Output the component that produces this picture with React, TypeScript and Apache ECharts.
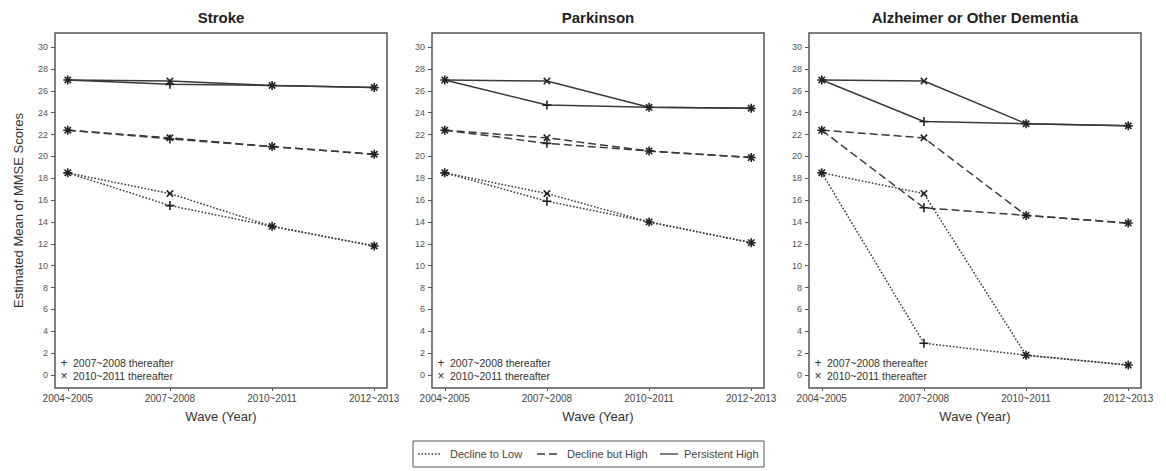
import React, { useEffect, useRef } from "react";
import * as echarts from "echarts";

const waves = ["2004~2005", "2007~2008", "2010~2011", "2012~2013"];
const panelTitles = ["Stroke", "Parkinson", "Alzheimer or Other Dementia"];
const yTicks = [0, 2, 4, 6, 8, 10, 12, 14, 16, 18, 20, 22, 24, 26, 28, 30];
const groupNames = ["Decline to Low", "Decline but High", "Persistent High"];
const variantNames = ["2007~2008 thereafter", "2010~2011 thereafter"];

// Stroke
const strokeLowPlus = [18.5, 15.5, 13.6, 11.8];
const strokeLowCross = [18.5, 16.6, 13.6, 11.8];
const strokeDecHighPlus = [22.4, 21.6, 20.9, 20.2];
const strokeDecHighCross = [22.4, 21.7, 20.9, 20.2];
const strokePersPlus = [27.0, 26.6, 26.5, 26.3];
const strokePersCross = [27.0, 26.9, 26.5, 26.3];

// Parkinson
const parkLowPlus = [18.5, 15.9, 14.0, 12.1];
const parkLowCross = [18.5, 16.6, 14.0, 12.1];
const parkDecHighPlus = [22.4, 21.2, 20.5, 19.9];
const parkDecHighCross = [22.4, 21.7, 20.5, 19.9];
const parkPersPlus = [27.0, 24.7, 24.5, 24.4];
const parkPersCross = [27.0, 26.9, 24.5, 24.4];

// Alzheimer or Other Dementia
const alzLowPlus = [18.5, 2.9, 1.8, 0.9];
const alzLowCross = [18.5, 16.6, 1.8, 0.9];
const alzDecHighPlus = [22.4, 15.3, 14.6, 13.9];
const alzDecHighCross = [22.4, 21.7, 14.6, 13.9];
const alzPersPlus = [27.0, 23.2, 23.0, 22.8];
const alzPersCross = [27.0, 26.9, 23.0, 22.8];

const panelData = [
  [[strokeLowPlus, strokeLowCross], [strokeDecHighPlus, strokeDecHighCross], [strokePersPlus, strokePersCross]],
  [[parkLowPlus, parkLowCross], [parkDecHighPlus, parkDecHighCross], [parkPersPlus, parkPersCross]],
  [[alzLowPlus, alzLowCross], [alzDecHighPlus, alzDecHighCross], [alzPersPlus, alzPersCross]],
];

const FONT = "'Liberation Sans', Arial, Helvetica, sans-serif";
const LINE_COLOR = "#3a3a3a";
const lineTypes: any[] = [[1.6, 1.8], [8, 4], "solid"];
const PLUS_PATH = "path://M4.1,0 H5.9 V4.1 H10 V5.9 H5.9 V10 H4.1 V5.9 H0 V4.1 H4.1 Z";

const GRID_LEFT = [55, 432, 809];
const GRID_TOP = 33;
const GRID_W = 332;
const GRID_H = 355;

export default function App() {
  const ref = useRef<HTMLDivElement>(null);

  useEffect(() => {
    if (!ref.current) return;
    const chart = echarts.init(ref.current, undefined, { renderer: "svg" });

    const grids = GRID_LEFT.map((l) => ({
      left: l,
      top: GRID_TOP,
      width: GRID_W,
      height: GRID_H,
      show: true,
      borderColor: "#555",
      borderWidth: 1.5,
      backgroundColor: "transparent",
    }));

    const xAxes = GRID_LEFT.map((_, i) => ({
      type: "value",
      gridIndex: i,
      min: -0.125,
      max: 3.125,
      axisLine: { show: false, onZero: false },
      splitLine: { show: false },
      axisTick: { show: true, inside: false, customValues: [0, 1, 2, 3], length: 3, lineStyle: { color: "#555", width: 1 } },
      axisLabel: {
        customValues: [0, 1, 2, 3],
        formatter: (v: number) => waves[Math.round(v)] ?? "",
        fontSize: 10,
        color: "#444",
        fontFamily: FONT,
        margin: 5,
      },
      name: "Wave (Year)",
      nameLocation: "middle",
      nameGap: 22,
      nameTextStyle: { fontSize: 13, color: "#333", fontFamily: FONT },
    }));

    const yAxes = GRID_LEFT.map((_, i) => ({
      type: "value",
      gridIndex: i,
      min: -1.2,
      max: 31.3,
      axisLine: { show: false, onZero: false },
      splitLine: { show: false },
      axisTick: { show: true, inside: false, customValues: yTicks, length: 4, lineStyle: { color: "#555" } },
      axisLabel: {
        customValues: yTicks,
        fontSize: 9,
        color: "#555",
        fontFamily: FONT,
        margin: 7,
      },
      name: i === 0 ? "Estimated Mean of MMSE Scores" : "",
      nameLocation: "middle",
      nameRotate: 90,
      nameGap: 30,
      nameTextStyle: { fontSize: 13, color: "#333", fontFamily: FONT },
    }));

    const series: any[] = [];
    panelData.forEach((groups, p) => {
      groups.forEach((variants, g) => {
        variants.forEach((vals, v) => {
          series.push({
            type: "line",
            name: `${panelTitles[p]} - ${groupNames[g]} (${variantNames[v]})`,
            xAxisIndex: p,
            yAxisIndex: p,
            data: vals.map((y, k) => [k, y]),
            symbol: PLUS_PATH,
            symbolSize: 9,
            symbolRotate: v === 1 ? 45 : 0,
            showAllSymbol: true,
            lineStyle: { color: LINE_COLOR, width: 1.5, type: lineTypes[g] },
            itemStyle: { color: "#222" },
            emphasis: { disabled: true },
            silent: true,
          });
        });
      });
    });

    const graphic: any[] = [];
    panelTitles.forEach((t, i) => {
      graphic.push({
        type: "text",
        x: GRID_LEFT[i] + GRID_W / 2,
        y: 17,
        style: {
          text: t,
          align: "center",
          verticalAlign: "middle",
          fill: "#222",
          font: `bold 15px ${FONT}`,
        },
      });
      const lx = GRID_LEFT[i] + 9;
      ["+", "×"].forEach((m, k) => {
        graphic.push({
          type: "text",
          x: lx,
          y: 363 + k * 13,
          style: { text: m, align: "center", verticalAlign: "middle", fill: "#333", font: `12px ${FONT}` },
        });
        graphic.push({
          type: "text",
          x: lx + 9,
          y: 363 + k * 13,
          style: { text: variantNames[k], align: "left", verticalAlign: "middle", fill: "#333", font: `10.5px ${FONT}` },
        });
      });
    });

    // bottom legend
    const legY = 454;
    graphic.push({
      type: "rect",
      shape: { x: 413, y: 441, width: 351, height: 26 },
      style: { fill: "transparent", stroke: "#555", lineWidth: 1 },
    });
    const legItems = [
      { x1: 418, x2: 440, tx: 450 },
      { x1: 537, x2: 557, tx: 567 },
      { x1: 660, x2: 678, tx: 684 },
    ];
    legItems.forEach((it, g) => {
      graphic.push({
        type: "line",
        shape: { x1: it.x1, y1: legY, x2: it.x2, y2: legY },
        style: {
          stroke: LINE_COLOR,
          lineWidth: 1.3,
          lineDash: g === 0 ? [1.6, 1.8] : g === 1 ? [8, 4] : null,
        },
      });
      graphic.push({
        type: "text",
        x: it.tx,
        y: legY,
        style: { text: groupNames[g], align: "left", verticalAlign: "middle", fill: "#444", font: `11px ${FONT}` },
      });
    });

    chart.setOption({
      animation: false,
      backgroundColor: "#fff",
      textStyle: { fontFamily: FONT },
      grid: grids,
      xAxis: xAxes,
      yAxis: yAxes,
      series,
      graphic,
    });

    return () => chart.dispose();
  }, []);

  return (
    <div
      ref={ref}
      style={{ position: "fixed", left: 0, top: 0, width: 1166, height: 471 }}
    />
  );
}
